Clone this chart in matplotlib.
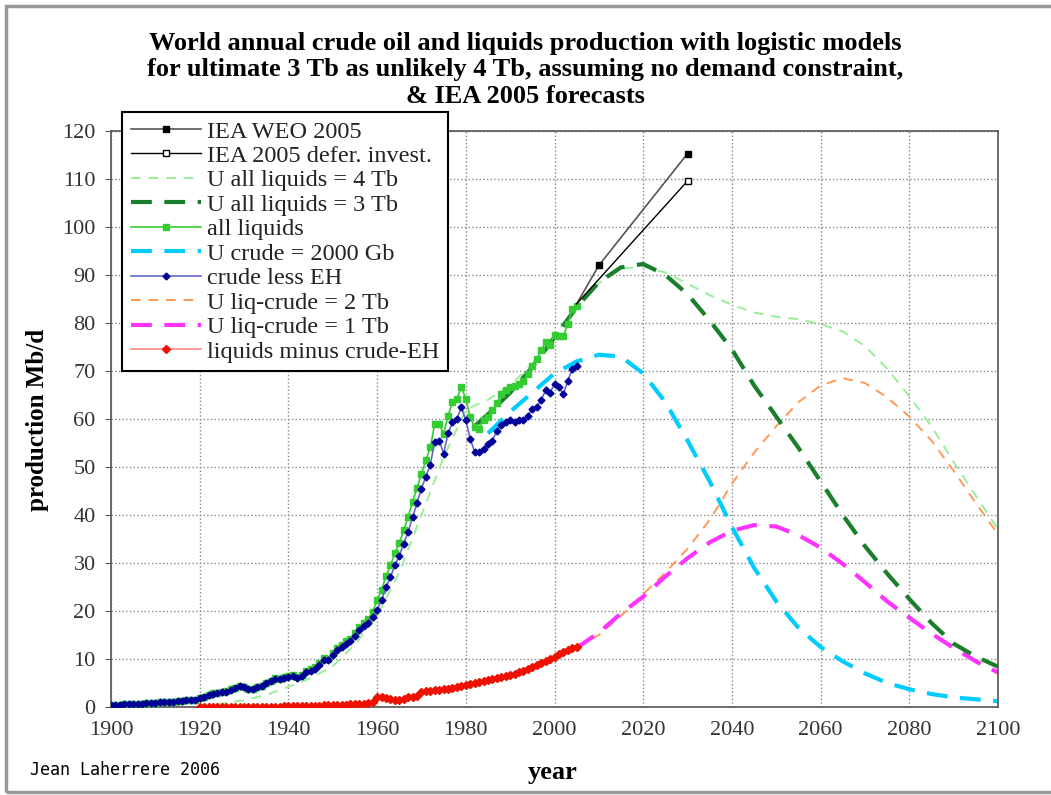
#!/usr/bin/env python

import matplotlib
matplotlib.use("Agg")
import matplotlib.pyplot as plt
from matplotlib.patches import Rectangle

# historical data, Mb/d
years_hist = list(range(1900, 2006))
years_red = list(range(1920, 2006))

crude_less_eh = [
    0.4, 0.45, 0.5, 0.55, 0.6, 0.6, 0.6, 0.7, 0.8, 0.8,
    0.9, 0.95, 0.95, 1.05, 1.1, 1.15, 1.2, 1.4, 1.4, 1.5,
    1.9, 2.1, 2.4, 2.8, 2.9, 3.1, 3.2, 3.6, 3.9, 4.4,
    4.1, 3.8, 3.7, 4.1, 4.4, 4.9, 5.4, 5.9, 5.8, 6.0,
    6.3, 6.4, 6.0, 6.4, 7.2, 7.6, 8.0, 8.8, 9.8, 9.7,
    10.8, 11.8, 12.5, 13.2, 13.7, 14.8, 16.0, 16.8, 17.5, 18.8,
    20.2, 22.3, 25.0, 27.0, 29.5, 31.5, 34.0, 36.5, 39.5, 42.5,
    45.5, 48.0, 50.5, 55.3, 55.5, 52.8, 57.0, 59.3, 60.0, 62.5,
    59.7, 55.9, 53.1, 53.1, 53.8, 54.8, 55.5, 57.6, 58.7, 59.3,
    59.7, 59.3, 59.7, 59.7, 60.7, 62.1, 62.5, 64.0, 66.0, 65.5,
    67.3, 66.6, 65.2, 68.0, 70.4, 71.1,
]

all_liquids = [
    0.4, 0.45, 0.5, 0.55, 0.6, 0.6, 0.6, 0.7, 0.8, 0.8,
    0.9, 0.95, 0.95, 1.05, 1.1, 1.15, 1.2, 1.4, 1.4, 1.5,
    1.95, 2.15, 2.45, 2.85, 2.95, 3.15, 3.25, 3.65, 3.95, 4.45,
    4.15, 3.85, 3.75, 4.15, 4.45, 5.0, 5.5, 6.0, 5.9, 6.15,
    6.5, 6.6, 6.2, 6.6, 7.45, 7.9, 8.3, 9.1, 10.15, 10.1,
    11.2, 12.3, 13.0, 13.7, 14.25, 15.4, 16.65, 17.5, 18.3, 19.8,
    22.2, 24.4, 27.2, 29.5, 32.0, 34.2, 36.8, 39.6, 42.8, 45.6,
    48.6, 51.4, 54.1, 59.0, 59.0, 56.9, 60.7, 63.5, 64.2, 66.6,
    64.2, 60.4, 58.3, 58.0, 59.7, 60.5, 61.8, 63.3, 65.2, 66.0,
    66.6, 66.8, 67.3, 68.0, 69.4, 71.0, 72.5, 74.3, 76.0, 75.5,
    77.5, 77.3, 77.3, 79.8, 82.9, 83.5,
]

liq_minus_crude = [
    0.05, 0.05, 0.05, 0.05, 0.05, 0.05, 0.05, 0.05, 0.05, 0.05,
    0.05, 0.05, 0.05, 0.05, 0.05, 0.1, 0.1, 0.1, 0.1, 0.15,
    0.2, 0.2, 0.2, 0.2, 0.25, 0.3, 0.3, 0.3, 0.35, 0.4,
    0.4, 0.5, 0.5, 0.5, 0.55, 0.6, 0.65, 0.7, 0.8, 1.0,
    2.0, 2.1, 1.9, 1.6, 1.4, 1.5, 1.6, 2.0, 2.1, 2.2,
    3.1, 3.3, 3.4, 3.6, 3.6, 3.7, 3.8, 4.0, 4.2, 4.3,
    4.6, 4.8, 5.0, 5.2, 5.5, 5.7, 5.9, 6.1, 6.3, 6.5,
    6.6, 6.9, 7.2, 7.5, 7.9, 8.3, 8.7, 9.1, 9.6, 10.1,
    10.5, 11.0, 11.5, 11.9, 12.3, 12.6,
]

# logistic models, read every 5 years
years_4tb = list(range(1920, 2101, 5))
u_all_4tb = [0.3, 0.7, 1.4, 2.5, 4.2, 6.0, 8.5, 13.0, 19.0, 28.0, 40.0, 52.0,
             62.0, 64.0, 67.0, 71.5, 77.5, 83.5, 88.3, 91.3, 91.8, 90.5, 88.2,
             85.8, 83.8, 82.2, 81.3, 80.8, 79.8, 78.2, 75.2, 70.5, 64.7, 58.5,
             51.0, 44.0, 37.0]

years_3tb = [1982] + list(range(1985, 2101, 5))
u_all_3tb = [58.5, 61.0, 65.5, 70.8, 77.0, 83.3, 88.5, 91.6, 92.3, 90.0, 86.0,
             80.5, 74.5, 67.0, 60.5, 54.0, 47.0, 40.0, 33.5, 27.8, 22.5, 17.5,
             13.2, 10.5, 8.4]

years_crude = list(range(1985, 2101, 5))
u_crude = [57.0, 61.5, 65.5, 69.5, 72.0, 73.4, 73.0, 69.5, 63.5, 55.5, 47.0,
           37.5, 29.0, 22.0, 16.5, 12.5, 9.5, 7.0, 5.0, 3.7, 2.7, 2.0, 1.6, 1.2]

years_liq = list(range(2005, 2101, 5))
u_liq_2tb = [12.5, 15.0, 19.0, 23.5, 28.0, 33.0, 39.0, 46.5, 53.0, 58.5, 63.5,
             67.0, 68.5, 67.5, 64.5, 60.5, 55.5, 49.2, 42.5, 36.0]
u_liq_1tb = [12.3, 15.5, 19.5, 23.0, 27.2, 31.0, 34.3, 36.7, 37.9, 37.6, 35.8,
             33.2, 29.8, 26.0, 22.0, 18.6, 15.3, 12.3, 9.5, 7.2]

# IEA 2005 forecasts
years_weo = [2005, 2010, 2030]
iea_weo = [84.0, 92.0, 115.3]
years_defer = [2005, 2030]
iea_defer = [84.0, 109.6]

serif = ["Liberation Serif", "DejaVu Serif"]


def main():
    plt.rcParams['font.family'] = serif

    fig = plt.figure(figsize=(10.51, 7.95), dpi=100)
    ax = fig.add_axes([0.1056, 0.1107, 0.844, 0.7245])

    # models
    ax.plot(years_4tb, u_all_4tb, color='#99ee99', lw=1.4, dashes=(5, 4),
            label='U all liquids = 4 Tb', zorder=2)
    ax.plot(years_3tb, u_all_3tb, color='#1a7f2a', lw=3, dashes=(5, 3),
            label='U all liquids = 3 Tb', zorder=3)
    ax.plot(years_crude, u_crude, color='#00ccff', lw=3, dashes=(5, 3),
            label='U crude = 2000 Gb', zorder=2)
    ax.plot(years_liq, u_liq_2tb, color='#ff9955', lw=1.4, dashes=(5, 4),
            label='U liq-crude = 2 Tb', zorder=2)
    ax.plot(years_liq, u_liq_1tb, color='#ff33ff', lw=3, dashes=(5, 3),
            label='U liq-crude = 1 Tb', zorder=2)

    # data
    ax.plot(years_hist, all_liquids, color='#33cc33', lw=1.2, marker='s',
            ms=5, mec='#33cc33', label='all liquids', zorder=4)
    ax.plot(years_hist, crude_less_eh, color='#6666cc', lw=1.2, marker='D',
            ms=3.5, mfc='#000099', mec='#000099', label='crude less EH', zorder=5)
    ax.plot(years_red, liq_minus_crude, color='#ff8888', lw=1.2, marker='D',
            ms=4, mfc='#ee1100', mec='#ee1100',
            label='liquids minus crude-EH', zorder=5)

    # IEA
    ax.plot(years_weo, iea_weo, color='#555555', lw=1.2, marker='s', ms=5,
            mfc='black', mec='black', markevery=[1, 2],
            label='IEA WEO 2005', zorder=6)
    ax.plot(years_defer, iea_defer, color='black', lw=1.0, marker='s', ms=5,
            mfc='white', mec='black', markevery=[1],
            label='IEA 2005 defer. invest.', zorder=6)

    ax.set_xlim(1900, 2100)
    ax.set_ylim(0, 120)
    ax.set_xticks(range(1900, 2101, 20))
    ax.set_yticks(range(0, 121, 10))
    ax.tick_params(axis='y', length=4, pad=7, labelsize=16, color='#555555')
    ax.tick_params(axis='x', length=0, pad=10, labelsize=16)
    for lab in ax.get_xticklabels() + ax.get_yticklabels():
        lab.set_color('#333333')
    ax.grid(True, color='#888888', ls=':', lw=1)
    for s in ax.spines.values():
        s.set_color('#555555')
        s.set_linewidth(1.2)

    # legend in the fixed reference order
    order = ['IEA WEO 2005', 'IEA 2005 defer. invest.', 'U all liquids = 4 Tb',
             'U all liquids = 3 Tb', 'all liquids', 'U crude = 2000 Gb',
             'crude less EH', 'U liq-crude = 2 Tb', 'U liq-crude = 1 Tb',
             'liquids minus crude-EH']
    handles, labels = ax.get_legend_handles_labels()
    hmap = dict(zip(labels, handles))
    leg = fig.legend([hmap[k] for k in order], order, loc='upper left',
                     bbox_to_anchor=(122 / 1051, 1 - 112 / 795),
                     borderaxespad=0, fontsize=17.5, labelspacing=0.1,
                     handlelength=2.9, handletextpad=0.25, borderpad=0.35,
                     fancybox=False, framealpha=1, edgecolor='black')
    leg.get_frame().set_linewidth(1.5)
    for t in leg.get_texts():
        t.set_color('#222222')

    fig.text(0.5, 0.912,
             "World annual crude oil and liquids production with logistic models\n"
             "for ultimate 3 Tb as unlikely 4 Tb, assuming no demand constraint,\n"
             "& IEA 2005 forecasts",
             ha='center', va='center', fontsize=19, fontweight='bold',
             linespacing=1.2)
    fig.text(38 / 1051, 1 - 420 / 795, "production Mb/d", rotation=90,
             ha='center', va='center', fontsize=18, fontweight='bold')
    fig.text(553 / 1051, 1 - 773 / 795, "year", ha='center', va='center',
             fontsize=19, fontweight='bold')
    fig.text(30 / 1051, 1 - 770 / 795, "Jean Laherrere 2006", ha='left',
             va='center', fontsize=12, family='DejaVu Sans Mono')

    # outer frame of the picture
    fig.patches.append(Rectangle((0.006, 0.004), 1.2, 0.988, transform=fig.transFigure,
                                 fill=False, edgecolor='#999999', lw=2.5))

    fig.savefig('out.png', dpi=100)


if __name__ == "__main__":
    main()
